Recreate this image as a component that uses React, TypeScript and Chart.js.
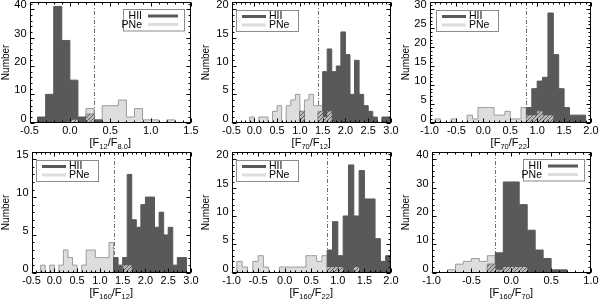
import React, { useEffect, useRef } from 'react';
import { Chart, registerables } from 'chart.js';
Chart.register(...registerables);

// ---------------- data (bin width 0.1, counts per bin, bins start at pNStart) ----------------
const BIN = 0.1;

const p1Start = -0.5;
const p1HII = [0, 2, 10, 41, 29, 15, 2, 3, 1, 0, 0, 0, 0, 0, 0, 0, 0, 0, 0, 0];
const p1PNe = [0, 0, 0, 0, 0, 1, 0, 5, 0, 6, 6, 8, 2, 5, 1, 1, 0, 1, 0, 0];

const p2Start = -0.5;
const p2HII = [0, 0, 0, 0, 0, 0, 0, 0, 0, 0, 0, 0, 0, 0, 0, 2, 0, 0, 0, 2, 9, 13, 9, 10, 16, 12, 5, 11, 5, 3, 2, 1, 0, 1, 1];
const p2PNe = [0, 0, 0, 0, 1, 0, 1, 1, 0, 2, 3, 0, 3, 4, 5, 2, 4, 5, 3, 3, 1, 2, 0, 0, 0, 0, 0, 0, 0, 0, 0, 0, 0, 0, 0];

const p3Start = -1.0;
const p3HII = [0, 0, 0, 0, 0, 0, 0, 0, 0, 0, 0, 0, 0, 0, 0, 0, 0, 0, 4, 9, 11, 12, 29, 18, 9, 4, 2, 2, 2, 0];
const p3PNe = [0, 1, 0, 0, 1, 0, 0, 2, 1, 4, 4, 4, 2, 2, 3, 1, 1, 4, 2, 2, 3, 2, 2, 0, 0, 0, 0, 0, 0, 0];

const p4Start = -0.5;
const p4HII = [0, 0, 0, 0, 0, 0, 0, 0, 0, 0, 0, 0, 0, 0, 0, 0, 0, 0, 2, 1, 2, 13, 7, 6, 9, 10, 10, 6, 8, 5, 6, 1, 2, 2, 0];
const p4PNe = [0, 0, 1, 0, 1, 0, 1, 3, 2, 1, 0, 1, 3, 3, 2, 2, 2, 4, 0, 0, 1, 1, 0, 0, 0, 0, 0, 0, 0, 0, 0, 0, 0, 0, 0];

const p5Start = -1.0;
const p5HII = [0, 0, 0, 0, 0, 0, 0, 0, 0, 0, 0, 0, 0, 0, 0, 0, 0, 0, 4, 9, 3, 10, 19, 10, 18, 13, 13, 6, 2, 3];
const p5PNe = [0, 2, 1, 0, 2, 3, 1, 0, 0, 1, 1, 1, 1, 1, 3, 3, 2, 3, 1, 1, 1, 0, 0, 1, 0, 0, 0, 0, 0, 0];

const p6Start = -1.0;
const p6HII = [0, 0, 0, 0, 0, 0, 0, 3, 7, 32, 32, 24, 15, 8, 5, 1, 1, 0, 0, 0];
const p6PNe = [0, 0, 1, 3, 4, 5, 4, 6, 1, 2, 2, 2, 0, 0, 0, 0, 0, 0, 0, 0];

// axis ranges / tick labels
const xRanges: [number, number][] = [[-0.5, 1.5], [-0.5, 3.0], [-1.0, 2.0], [-0.5, 3.0], [-1.0, 2.0], [-1.0, 1.0]];
const xTickStep = 0.5;
const yTops = [40, 20, 30, 15, 20, 40];
const ySteps = [10, 5, 5, 5, 5, 10];
const cuts = [0.3, 1.4, 0.8, 1.3, 0.8, -0.2];
// x titles: [text, isSubscript]
const xTitles: [string, boolean][][] = [
  [['[F', false], ['12', true], ['/F', false], ['8.0', true], [']', false]],
  [['[F', false], ['70', true], ['/F', false], ['12', true], [']', false]],
  [['[F', false], ['70', true], ['/F', false], ['22', true], [']', false]],
  [['[F', false], ['160', true], ['/F', false], ['12', true], [']', false]],
  [['[F', false], ['160', true], ['/F', false], ['22', true], [']', false]],
  [['[F', false], ['160', true], ['/F', false], ['70', true], [']', false]],
];
const yTitle = 'Number';
const legendLabels = ['HII', 'PNe'];

// ---------------- style ----------------
const FONT = '"Liberation Sans", Arial, Helvetica, sans-serif';
const DARK = '#595959';
const LIGHT = '#dddddd';
const PNE_EDGE = '#9c9c9c';
const HATCH_BG = '#b9b9b9';
const HATCH_LINE = '#5e5e5e';

type PanelDef = {
  start: number; hii: number[]; pne: number[];
  xr: [number, number]; ytop: number; ystep: number; cut: number;
  title: [string, boolean][]; legendSide: 'left' | 'right'; yAxisW: number;
};

const panels: PanelDef[] = [
  { start: p1Start, hii: p1HII, pne: p1PNe, xr: xRanges[0], ytop: yTops[0], ystep: ySteps[0], cut: cuts[0], title: xTitles[0], legendSide: 'right', yAxisW: 29.5 },
  { start: p2Start, hii: p2HII, pne: p2PNe, xr: xRanges[1], ytop: yTops[1], ystep: ySteps[1], cut: cuts[1], title: xTitles[1], legendSide: 'left', yAxisW: 31.5 },
  { start: p3Start, hii: p3HII, pne: p3PNe, xr: xRanges[2], ytop: yTops[2], ystep: ySteps[2], cut: cuts[2], title: xTitles[2], legendSide: 'left', yAxisW: 29.5 },
  { start: p4Start, hii: p4HII, pne: p4PNe, xr: xRanges[3], ytop: yTops[3], ystep: ySteps[3], cut: cuts[3], title: xTitles[3], legendSide: 'left', yAxisW: 31.5 },
  { start: p5Start, hii: p5HII, pne: p5PNe, xr: xRanges[4], ytop: yTops[4], ystep: ySteps[4], cut: cuts[4], title: xTitles[4], legendSide: 'left', yAxisW: 31.5 },
  { start: p6Start, hii: p6HII, pne: p6PNe, xr: xRanges[5], ytop: yTops[5], ystep: ySteps[5], cut: cuts[5], title: xTitles[5], legendSide: 'right', yAxisW: 31.5 },
];

function stepPoints(start: number, counts: number[]) {
  const pts: { x: number; y: number }[] = [{ x: start, y: 0 }];
  counts.forEach((c, i) => pts.push({ x: +(start + i * BIN).toFixed(3), y: c }));
  pts.push({ x: +(start + counts.length * BIN).toFixed(3), y: 0 });
  return pts;
}

function makeHatch(ctx: CanvasRenderingContext2D) {
  const c = document.createElement('canvas');
  c.width = 4; c.height = 4;
  const g = c.getContext('2d')!;
  g.fillStyle = HATCH_BG; g.fillRect(0, 0, 4, 4);
  g.strokeStyle = HATCH_LINE; g.lineWidth = 1;
  g.beginPath();
  g.moveTo(0, 4); g.lineTo(4, 0);
  g.moveTo(-1, 1); g.lineTo(1, -1);
  g.moveTo(3, 5); g.lineTo(5, 3);
  g.stroke();
  return ctx.createPattern(c, 'repeat')!;
}

function framePlugin(p: PanelDef) {
  return {
    id: 'frame',
    beforeDatasetsDraw(chart: any) {
      const { ctx, chartArea: a, scales } = chart;
      const x = Math.round(scales.x.getPixelForValue(p.cut)) + 0.5;
      ctx.save();
      ctx.strokeStyle = '#6e6e6e';
      ctx.lineWidth = 1;
      ctx.setLineDash([4, 2, 1, 2]);
      ctx.beginPath(); ctx.moveTo(x, a.top); ctx.lineTo(x, a.bottom); ctx.stroke();
      ctx.restore();
    },
    afterDraw(chart: any) {
      const { ctx, chartArea: a, scales } = chart;
      const sx = scales.x, sy = scales.y;
      const L = Math.round(a.left) + 0.5, R = Math.round(a.right) - 0.5;
      const T = Math.round(a.top) + 0.5, B = Math.round(a.bottom) - 0.5;
      ctx.save();
      ctx.strokeStyle = '#000'; ctx.lineWidth = 1;
      ctx.strokeRect(L, T, R - L, B - T);
      ctx.beginPath();
      // x ticks
      const xs = p.xr[0], xe = p.xr[1];
      const nMinorX = Math.round((xe - xs) / (xTickStep / 5));
      for (let i = 0; i <= nMinorX; i++) {
        const v = xs + i * xTickStep / 5;
        const px = Math.round(sx.getPixelForValue(v)) + 0.5;
        const len = i % 5 === 0 ? 4 : 2;
        ctx.moveTo(px, B); ctx.lineTo(px, B - len);
        ctx.moveTo(px, T); ctx.lineTo(px, T + len);
      }
      // y ticks
      const minorY = p.ystep / 5;
      const ymax = sy.max;
      for (let i = 0; i * minorY <= ymax + 1e-9; i++) {
        const v = i * minorY;
        const py = Math.round(sy.getPixelForValue(v)) + 0.5;
        const len = i % 5 === 0 ? 4 : 2;
        ctx.moveTo(L, py); ctx.lineTo(L + len, py);
        ctx.moveTo(R, py); ctx.lineTo(R - len, py);
      }
      ctx.stroke();

      // x title with subscripts
      const mainF = `11px ${FONT}`, subF = `7.5px ${FONT}`;
      let w = 0;
      for (const [t, s] of p.title) { ctx.font = s ? subF : mainF; w += ctx.measureText(t).width; }
      let tx = (a.left + a.right) / 2 - w / 2;
      ctx.fillStyle = '#000';
      ctx.textBaseline = 'alphabetic';
      ctx.textAlign = 'left';
      for (const [t, s] of p.title) {
        ctx.font = s ? subF : mainF;
        ctx.fillText(t, tx, s ? 148.5 : 146);
        tx += ctx.measureText(t).width;
      }

      // legend
      ctx.font = `10.5px ${FONT}`;
      ctx.textBaseline = 'middle';
      if (p.legendSide === 'right') {
        ctx.fillStyle = '#fff';
        ctx.fillRect(123, 9.5, 61, 21.5);
        ctx.strokeStyle = '#8c8c8c';
        ctx.lineWidth = 1;
        ctx.strokeRect(123.5, 9.5, 61, 21.5);
        ctx.fillStyle = '#000';
        ctx.textAlign = 'right';
        ctx.fillText(legendLabels[0], 142, 16.5);
        ctx.fillText(legendLabels[1], 142, 25);
        ctx.lineWidth = 3;
        ctx.strokeStyle = DARK;
        ctx.beginPath(); ctx.moveTo(148, 16); ctx.lineTo(178, 16); ctx.stroke();
        ctx.strokeStyle = LIGHT;
        ctx.beginPath(); ctx.moveTo(148, 24.5); ctx.lineTo(178, 24.5); ctx.stroke();
      } else {
        ctx.fillStyle = '#fff';
        ctx.fillRect(36, 10, 62, 21);
        ctx.strokeStyle = '#8c8c8c';
        ctx.lineWidth = 1;
        ctx.strokeRect(36.5, 10.5, 62, 21);
        ctx.lineWidth = 3;
        ctx.strokeStyle = DARK;
        ctx.beginPath(); ctx.moveTo(42, 16.5); ctx.lineTo(66, 16.5); ctx.stroke();
        ctx.strokeStyle = LIGHT;
        ctx.beginPath(); ctx.moveTo(42, 25); ctx.lineTo(66, 25); ctx.stroke();
        ctx.fillStyle = '#000';
        ctx.textAlign = 'left';
        ctx.fillText(legendLabels[0], 69, 16.5);
        ctx.fillText(legendLabels[1], 69, 25);
      }
      ctx.restore();
    },
  };
}

function Panel({ def, left, top }: { def: PanelDef; left: number; top: number }) {
  const ref = useRef<HTMLCanvasElement>(null);
  useEffect(() => {
    const canvas = ref.current!;
    const ctx = canvas.getContext('2d')!;
    const hatch = makeHatch(ctx);
    const overlap = def.hii.map((h, i) => Math.min(h, def.pne[i]));
    const common = { stepped: true, fill: 'origin', pointRadius: 0, tension: 0 };
    const chart = new Chart(canvas, {
      type: 'line',
      data: {
        datasets: [
          { ...common, label: 'PNe', data: stepPoints(def.start, def.pne), backgroundColor: LIGHT, borderColor: PNE_EDGE, borderWidth: 1, order: 3 },
          { ...common, label: 'HII', data: stepPoints(def.start, def.hii), backgroundColor: DARK, borderColor: DARK, borderWidth: 1, order: 2 },
          { ...common, label: 'both', data: stepPoints(def.start, overlap), backgroundColor: hatch, borderColor: 'rgba(0,0,0,0)', borderWidth: 0, order: 1 },
        ] as any,
      },
      options: {
        responsive: false,
        animation: false,
        devicePixelRatio: 1,
        events: [],
        layout: { padding: { top: 2, right: 9, left: 0, bottom: 0 } },
        plugins: { legend: { display: false }, tooltip: { enabled: false } },
        scales: {
          x: {
            type: 'linear', min: def.xr[0], max: def.xr[1],
            grid: { display: false, drawTicks: false },
            border: { display: false },
            ticks: {
              stepSize: xTickStep, autoSkip: false, maxRotation: 0, includeBounds: false,
              padding: 2, color: '#000', font: { family: FONT, size: 11 },
              callback: (v: any) => Number(v).toFixed(1),
            },
            afterFit: (s: any) => { s.height = 27.3; s.paddingLeft = 0; s.paddingRight = 0; },
          },
          y: {
            type: 'linear', min: 0, max: def.ytop * 1.064,
            grid: { display: false, drawTicks: false },
            border: { display: false },
            ticks: {
              stepSize: def.ystep, includeBounds: false, labelOffset: -4,
              padding: 3, color: '#000', font: { family: FONT, size: 11 },
              callback: (v: any) => String(Math.round(Number(v))),
            },
            title: { display: true, text: yTitle, color: '#000', padding: 0, font: { family: FONT, size: 10 } },
            afterFit: (s: any) => { s.width = def.yAxisW; s.paddingTop = 0; s.paddingBottom = 0; },
          },
        },
      } as any,
      plugins: [framePlugin(def)],
    });
    return () => chart.destroy();
  }, [def]);
  return (
    <canvas
      ref={ref}
      width={200}
      height={150}
      style={{ position: 'absolute', left, top, width: 200, height: 150 }}
    />
  );
}

export default function App() {
  return (
    <div style={{ position: 'relative', width: 600, height: 300, background: '#fff' }}>
      <style>{'body{margin:0;background:#fff}'}</style>
      {panels.map((d, i) => (
        <Panel key={i} def={d} left={(i % 3) * 200} top={Math.floor(i / 3) * 150} />
      ))}
    </div>
  );
}
